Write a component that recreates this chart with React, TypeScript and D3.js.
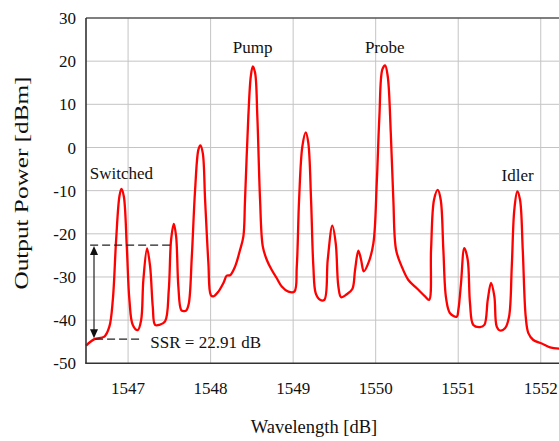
import React, { useEffect, useRef } from 'react';
import * as d3 from 'd3';

// Wavelength samples [nm]
const wavelengths = [
  1546.491, 1546.592, 1546.713, 1546.773, 1546.815, 1546.855, 1546.895, 1546.919, 1546.948, 1546.984,
  1547.016, 1547.057, 1547.118, 1547.158, 1547.185, 1547.230, 1547.267, 1547.299, 1547.327, 1547.379,
  1547.448, 1547.493, 1547.521, 1547.554, 1547.582, 1547.609, 1547.642, 1547.670, 1547.703, 1547.735,
  1547.772, 1547.812, 1547.852, 1547.876, 1547.905, 1547.933, 1547.973, 1548.002, 1548.033, 1548.094,
  1548.155, 1548.196, 1548.236, 1548.296, 1548.357, 1548.397, 1548.417, 1548.457, 1548.487, 1548.511,
  1548.539, 1548.566, 1548.599, 1548.632, 1548.680, 1548.741, 1548.802, 1548.862, 1548.942, 1549.015,
  1549.044, 1549.072, 1549.112, 1549.153, 1549.184, 1549.217, 1549.245, 1549.274, 1549.326, 1549.378,
  1549.419, 1549.475, 1549.516, 1549.548, 1549.581, 1549.650, 1549.717, 1549.750, 1549.790, 1549.823,
  1549.856, 1549.911, 1549.972, 1550.013, 1550.045, 1550.081, 1550.114, 1550.146, 1550.183, 1550.214,
  1550.247, 1550.316, 1550.396, 1550.498, 1550.598, 1550.647, 1550.671, 1550.707, 1550.752, 1550.788,
  1550.820, 1550.853, 1550.901, 1550.982, 1551.002, 1551.034, 1551.074, 1551.115, 1551.143, 1551.183,
  1551.265, 1551.317, 1551.358, 1551.398, 1551.438, 1551.467, 1551.507, 1551.567, 1551.616, 1551.649,
  1551.680, 1551.716, 1551.749, 1551.782, 1551.818, 1551.850, 1551.910, 1552.012, 1552.113, 1552.222
];

// Output power [dBm] at each wavelength
const powers = [
  -45.9, -44.4, -43.8, -41.5, -35.3, -21.4, -11.3, -9.6, -11.3, -22.9,
  -35.3, -41.1, -42.3, -40.0, -30.7, -23.4, -27.6, -36.9, -41.1, -41.1,
  -40.3, -33.0, -21.4, -17.7, -20.6, -32.2, -37.6, -37.9, -37.8, -36.2,
  -25.3, -9.8, -0.5, 0.5, -1.3, -12.1, -26.8, -34.2, -34.5, -33.4,
  -31.4, -29.7, -29.6, -27.6, -23.7, -20.6, -12.1, 7.2, 16.5, 18.8,
  17.3, 7.2, -12.1, -22.9, -26.0, -28.4, -30.3, -32.2, -33.4, -33.4,
  -27.6, -12.1, 0.3, 3.5, 1.0, -12.1, -27.6, -33.8, -35.3, -35.3,
  -26.0, -18.1, -22.2, -32.2, -34.7, -34.0, -32.8, -28.4, -23.9, -26.0,
  -28.7, -26.8, -22.2, -8.2, 7.2, 18.1, 19.0, 16.5, 3.4, -12.1,
  -23.7, -27.6, -30.7, -32.6, -34.5, -35.3, -23.7, -12.1, -9.8, -12.1,
  -23.7, -34.9, -38.4, -39.2, -37.6, -31.4, -23.3, -26.0, -36.1, -41.1,
  -41.6, -41.1, -35.3, -31.4, -34.5, -41.5, -42.4, -41.9, -39.2, -27.6,
  -14.4, -10.2, -12.1, -23.7, -39.2, -43.0, -44.6, -45.4, -46.3, -46.6
];

const xTicks = [1547, 1548, 1549, 1550, 1551, 1552];
const yTicks = [-50, -40, -30, -20, -10, 0, 10, 20, 30];

// Peak labels
const peakNames = ['Switched', 'Pump', 'Probe', 'Idler'];
const peakWl = [1546.92, 1548.51, 1550.11, 1551.72];
const peakLabelDb = [-7.4, 21.8, 21.8, -7.8];

// SSR annotation
const ssrTop = -22.6;
const ssrBottom = -44.4;
const ssrText = 'SSR = 22.91 dB';

const App = () => {
  const ref = useRef<SVGSVGElement>(null);

  useEffect(() => {
    const width = 559;
    const left = 86;
    const top = 18;
    const bottom = 363.3;

    const svg = d3.select(ref.current);
    svg.selectAll('*').remove();

    const x = d3.scaleLinear().domain([1546.49, 1552.5]).range([left, 582]);
    const y = d3.scaleLinear().domain([-50, 30]).range([bottom, top]);

    const font = '"Liberation Serif", "Times New Roman", serif';

    // grid
    const grid = svg.append('g').attr('stroke', '#c4c4c4').attr('stroke-width', 1);
    grid.selectAll('.vg')
      .data(xTicks)
      .enter()
      .append('line')
      .attr('x1', d => x(d))
      .attr('x2', d => x(d))
      .attr('y1', top)
      .attr('y2', bottom);
    grid.selectAll('.hg')
      .data(yTicks.filter(d => d > -50 && d < 30))
      .enter()
      .append('line')
      .attr('x1', left)
      .attr('x2', width)
      .attr('y1', d => y(d))
      .attr('y2', d => y(d));

    // spectrum
    const pts = wavelengths.map((w, i) => [w, powers[i]] as [number, number]);
    const line = d3.line<[number, number]>()
      .x(d => x(d[0]))
      .y(d => y(d[1]))
      .curve(d3.curveCatmullRom.alpha(0.5));
    svg.append('path')
      .datum(pts)
      .attr('d', line)
      .attr('fill', 'none')
      .attr('stroke', '#ff0000')
      .attr('stroke-width', 2.3)
      .attr('stroke-linejoin', 'round');

    // frame
    const frame = svg.append('g').attr('stroke', '#333').attr('fill', 'none');
    frame.append('line').attr('x1', left).attr('x2', width).attr('y1', top).attr('y2', top).attr('stroke-width', 1.5).attr('stroke', '#555');
    frame.append('line').attr('x1', left).attr('x2', left).attr('y1', top).attr('y2', bottom).attr('stroke-width', 1.6);
    frame.append('line').attr('x1', left - 0.8).attr('x2', width).attr('y1', bottom).attr('y2', bottom).attr('stroke-width', 1.6);

    // tick labels
    svg.append('g')
      .selectAll('text')
      .data(yTicks)
      .enter()
      .append('text')
      .attr('x', left - 10)
      .attr('y', d => y(d))
      .attr('dy', '0.36em')
      .attr('text-anchor', 'end')
      .attr('font-family', font)
      .attr('font-size', 17)
      .attr('fill', '#111')
      .text(d => d);

    svg.append('g')
      .selectAll('text')
      .data(xTicks)
      .enter()
      .append('text')
      .attr('x', d => x(d))
      .attr('y', bottom + 31)
      .attr('text-anchor', 'middle')
      .attr('font-family', font)
      .attr('font-size', 17)
      .attr('fill', '#111')
      .text(d => d);

    // axis titles
    svg.append('text')
      .attr('x', 314)
      .attr('y', 433)
      .attr('text-anchor', 'middle')
      .attr('font-family', font)
      .attr('font-size', 18.5)
      .attr('fill', '#111')
      .text('Wavelength [dB]');

    svg.append('text')
      .attr('transform', 'translate(28,183) rotate(-90)')
      .attr('text-anchor', 'middle')
      .attr('font-family', font)
      .attr('font-size', 18.5)
      .attr('textLength', 213)
      .attr('lengthAdjust', 'spacingAndGlyphs')
      .attr('fill', '#111')
      .text('Output Power [dBm]');

    // peak labels
    svg.append('g')
      .selectAll('text')
      .data(peakNames)
      .enter()
      .append('text')
      .attr('x', (d, i) => x(peakWl[i]))
      .attr('y', (d, i) => y(peakLabelDb[i]))
      .attr('text-anchor', 'middle')
      .attr('font-family', font)
      .attr('font-size', 17)
      .attr('fill', '#111')
      .text(d => d);

    // SSR annotation
    const ann = svg.append('g').attr('stroke', '#222').attr('stroke-width', 1.2);
    ann.append('line')
      .attr('x1', x(1546.54)).attr('x2', x(1547.51))
      .attr('y1', y(ssrTop)).attr('y2', y(ssrTop))
      .attr('stroke-dasharray', '8,4');
    ann.append('line')
      .attr('x1', x(1546.6)).attr('x2', x(1547.15))
      .attr('y1', y(ssrBottom)).attr('y2', y(ssrBottom))
      .attr('stroke-dasharray', '8,4');

    const ax = x(1546.587);
    const yt = y(ssrTop) + 1;
    const yb = y(ssrBottom) - 1;
    ann.append('line')
      .attr('x1', ax).attr('x2', ax)
      .attr('y1', yt + 6).attr('y2', yb - 6);
    svg.append('path')
      .attr('d', `M${ax},${yt} L${ax - 4},${yt + 9} L${ax + 4},${yt + 9} Z`)
      .attr('fill', '#111');
    svg.append('path')
      .attr('d', `M${ax},${yb} L${ax - 4},${yb - 9} L${ax + 4},${yb - 9} Z`)
      .attr('fill', '#111');

    svg.append('text')
      .attr('x', x(1547.27))
      .attr('y', y(ssrBottom) + 8.5)
      .attr('font-family', font)
      .attr('font-size', 17)
      .attr('fill', '#111')
      .text(ssrText);
  }, []);

  return (
    <div style={{ position: 'absolute', left: 0, top: 0, width: 559, height: 441, background: '#fff' }}>
      <svg ref={ref} width={559} height={441} style={{ display: 'block' }} />
    </div>
  );
};

export default App;
